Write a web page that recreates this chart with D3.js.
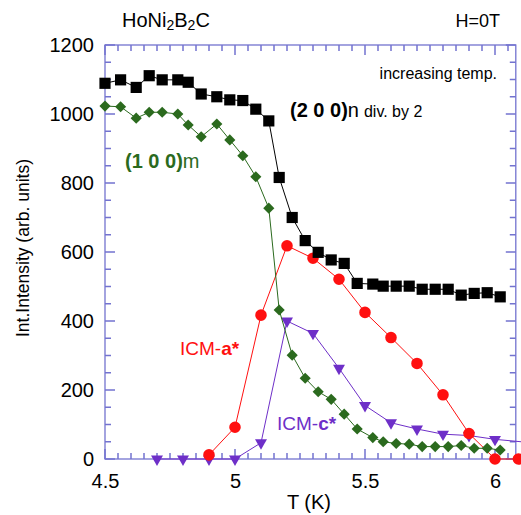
<!DOCTYPE html>
<html>
<head>
<meta charset="utf-8">
<script src="https://cdn.jsdelivr.net/npm/d3@7"></script>
<style>
  body { margin: 0; background: #fff; }
  svg { display: block; font-family: "Liberation Sans", Arial, Helvetica, sans-serif; }
</style>
</head>
<body>
<div id="chart"></div>
<script>
// temperatures (K) of the (2 0 0) and (1 0 0) scans
const temps = [4.50, 4.56, 4.62, 4.67, 4.72, 4.78, 4.82, 4.87, 4.93, 4.98, 5.03,
  5.08, 5.13, 5.17, 5.22, 5.27, 5.32, 5.37, 5.42, 5.47, 5.53, 5.57, 5.62, 5.67,
  5.72, 5.77, 5.82, 5.87, 5.92, 5.97, 6.02];
// (2 0 0)n, divided by 2
const int200 = [1089, 1099, 1077, 1111, 1099, 1099, 1092, 1058, 1050, 1041, 1039,
  1014, 980, 816, 700, 633, 599, 577, 567, 509, 507, 501, 501, 501,
  492, 492, 492, 475, 480, 482, 470];
// (1 0 0)m
const int100 = [1023, 1021, 988, 1005, 1005, 1000, 968, 934, 971, 925, 879,
  818, 727, 432, 301, 234, 195, 173, 130, 87, 62, 50, 45, 43,
  36, 36, 36, 39, 31, 31, 26];

// ICM-a*
const tempsA = [4.9, 5.0, 5.1, 5.2, 5.3, 5.4, 5.5, 5.6, 5.7, 5.8, 5.9, 6.0, 6.09];
const icmA = [12, 92, 417, 618, 582, 521, 425, 352, 277, 186, 74, 0, 0];

// ICM-c*
const tempsC = [4.7, 4.8, 4.9, 5.0, 5.1, 5.2, 5.3, 5.4, 5.5, 5.6, 5.7, 5.8, 5.9, 6.0, 6.2];
const icmC = [0, 0, 0, 0, 47, 400, 364, 263, 155, 105, 87, 72, 68, 57, 43];

const xMajor = [4.5, 5, 5.5, 6];
const yMajor = [0, 200, 400, 600, 800, 1000, 1200];

const W = 521, H = 515;
const axisColor = '#7373cf';
const green = '#2b6a1e', red = '#ff1010', purple = '#6e2fc8';

const x = d3.scaleLinear().domain([4.5, 6]).range([105, 495]);
const y = d3.scaleLinear().domain([0, 1200]).range([459, 45]);
const xEnd = 6.08;
const plotLeft = x(4.5), plotRight = x(xEnd), plotTop = y(1200), plotBottom = y(0);

const svg = d3.select('#chart').append('svg')
    .attr('width', W)
    .attr('height', H);

// frame
svg.append('rect')
    .attr('x', plotLeft).attr('y', plotTop)
    .attr('width', plotRight - plotLeft).attr('height', plotBottom - plotTop)
    .attr('fill', 'none')
    .attr('stroke', axisColor)
    .attr('stroke-width', 1.3);

// tick positions: minor every 0.05 K / 50 counts, major on the labelled values
const xMinor = d3.range(4.5, xEnd, 0.05);
const yMinor = d3.range(0, 1201, 50);
const xLen = d => xMajor.some(m => Math.abs(m - d) < 1e-6) ? 10 : 6;
const yLen = d => yMajor.includes(d) ? 10 : 6;

// all ticks point into the plot, drawn as one path
let tickD = '';
xMinor.forEach(d => {
    const px = x(d).toFixed(1);
    tickD += 'M' + px + ',' + plotBottom + 'V' + (plotBottom - xLen(d));
    tickD += 'M' + px + ',' + plotTop + 'V' + (plotTop + xLen(d));
});
yMinor.forEach(d => {
    const py = y(d).toFixed(1);
    tickD += 'M' + plotLeft + ',' + py + 'H' + (plotLeft + yLen(d));
    tickD += 'M' + plotRight + ',' + py + 'H' + (plotRight - yLen(d));
});
svg.append('path')
    .attr('d', tickD)
    .attr('fill', 'none')
    .style('stroke', axisColor)
    .style('stroke-width', '1.5px');

// tick labels through d3 axes (lines hidden)
function labelsOnly(g) {
    g.selectAll('.domain').remove();
    g.selectAll('.tick line').remove();
    g.selectAll('.tick text').attr('fill', '#000').attr('font-size', 20);
}
svg.append('g').attr('transform', 'translate(0,' + plotBottom + ')')
    .call(d3.axisBottom(x).tickValues(xMajor).tickSize(0).tickPadding(15)
        .tickFormat(d3.format('')))
    .call(labelsOnly);
svg.append('g').attr('transform', 'translate(' + plotLeft + ',0)')
    .call(d3.axisLeft(y).tickValues(yMajor).tickSize(0).tickPadding(11)
        .tickFormat(d3.format('d')))
    .call(labelsOnly);

// series
const series = [
    {t: temps, v: int200, color: '#000', shape: 'square'},
    {t: temps, v: int100, color: green, shape: 'diamond'},
    {t: tempsA, v: icmA, color: red, shape: 'circle'},
    {t: tempsC, v: icmC, color: purple, shape: 'triangle'}
];

const line = d3.line().x(d => x(d[0])).y(d => y(d[1]));

// draw bottom-most first: purple, red, green, black
[3, 2, 1, 0].forEach(i => {
    const s = series[i];
    const pts = s.t.map((t, j) => [t, s.v[j]]);
    svg.append('path')
        .attr('d', line(pts))
        .attr('fill', 'none')
        .attr('stroke', s.color)
        .attr('stroke-width', 1);

    let sym;
    let rot = 0;
    if (s.shape === 'square') sym = d3.symbol(d3.symbolSquare, 125);
    else if (s.shape === 'diamond') { sym = d3.symbol(d3.symbolSquare, 62); rot = 45; }
    else if (s.shape === 'circle') sym = d3.symbol(d3.symbolCircle, 105);
    else { sym = d3.symbol(d3.symbolTriangle, 62); rot = 180; }

    svg.append('g').selectAll('path')
        .data(pts)
        .enter().append('path')
        .attr('d', sym)
        .attr('transform', d => 'translate(' + x(d[0]) + ',' + y(d[1]) + ') rotate(' + rot + ')')
        .attr('fill', s.color);
});

// axis titles
svg.append('text')
    .attr('x', 309).attr('y', 509)
    .attr('text-anchor', 'middle')
    .attr('font-size', 20)
    .text('T (K)');

svg.append('text')
    .attr('transform', 'translate(29,248) rotate(-90)')
    .attr('text-anchor', 'middle')
    .attr('font-size', 19)
    .attr('textLength', 178)
    .attr('lengthAdjust', 'spacingAndGlyphs')
    .text('Int.Intensity (arb. units)');

// title: HoNi2B2C
const title = svg.append('text')
    .attr('x', 122).attr('y', 27)
    .attr('font-size', 20);
title.append('tspan').text('HoNi');
title.append('tspan').attr('font-size', 14).attr('dy', 3).text('2');
title.append('tspan').attr('dy', -3).text('B');
title.append('tspan').attr('font-size', 14).attr('dy', 3).text('2');
title.append('tspan').attr('dy', -3).text('C');

svg.append('text')
    .attr('x', 500).attr('y', 27)
    .attr('text-anchor', 'end')
    .attr('font-size', 18)
    .text('H=0T');

svg.append('text')
    .attr('x', 497).attr('y', 79)
    .attr('text-anchor', 'end')
    .attr('font-size', 16)
    .text('increasing temp.');

// series labels
const lab200 = svg.append('text').attr('x', 290).attr('y', 117).attr('font-size', 20);
lab200.append('tspan').attr('font-weight', 'bold').text('(2 0 0)');
lab200.append('tspan').text('n');
lab200.append('tspan').attr('font-size', 16).attr('dx', 5).text('div. by 2');

const lab100 = svg.append('text').attr('x', 125).attr('y', 168).attr('font-size', 20).attr('fill', green);
lab100.append('tspan').attr('font-weight', 'bold').text('(1 0 0)');
lab100.append('tspan').text('m');

const labA = svg.append('text').attr('x', 180).attr('y', 355).attr('font-size', 19).attr('fill', red);
labA.append('tspan').text('ICM-');
labA.append('tspan').attr('font-weight', 'bold').text('a*');

const labC = svg.append('text').attr('x', 277).attr('y', 430).attr('font-size', 19).attr('fill', purple);
labC.append('tspan').text('ICM-');
labC.append('tspan').attr('font-weight', 'bold').text('c*');
</script>
</body>
</html>
